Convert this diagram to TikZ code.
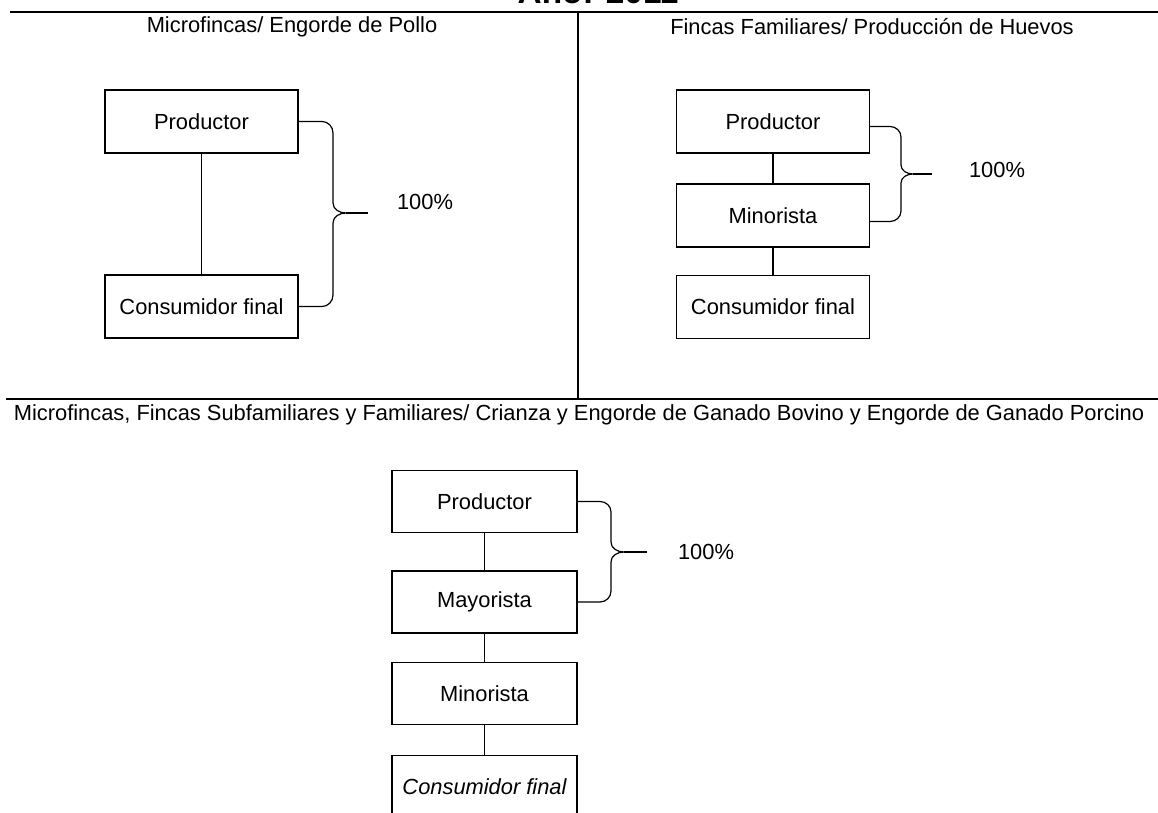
\documentclass[tikz,border=0pt]{standalone}
\usepackage{fontspec}
\setmainfont{Liberation Sans}
\newdimen\pxu \pxu=0.75pt
\begin{document}
\begin{tikzpicture}[x=0.75pt,y=-0.75pt,
  every node/.style={font=\fontsize{16.4}{19}\selectfont, inner sep=0pt},
  boxA/.style={draw=black, line width=0.9pt, minimum width=193\pxu, minimum height=63\pxu},
  boxB/.style={draw=black, line width=0.9pt, minimum width=185\pxu, minimum height=62\pxu},
  link/.style={draw=black, line width=0.9pt},
  brace/.style={draw=black, line width=0.9pt},
  rule/.style={draw=black, line width=1.1pt}]
\clip (0,0) rectangle (1158,813);
\fill[white] (0,0) rectangle (1158,813);

% title (cut off at the top)
\node[anchor=base, font=\fontsize{25}{28}\bfseries\selectfont] (title) at (598,4) {Año: 2011};

% frame lines
\coordinate (tl) at (10,12);
\coordinate (tr) at (1158,12);
\coordinate (ml) at (6,399);
\coordinate (mr) at (1158,399);
\coordinate (vt) at (578,12);
\coordinate (vb) at (578,399);
\draw[rule] (tl) -- (tr);
\draw[rule] (ml) -- (mr);
\draw[rule, line width=0.9pt] (vt) -- (vb);

% subtitles
\node (s1) at (292,27) {Microfincas/ Engorde de Pollo};
\node (s2) at (872,27) {Fincas Familiares/ Producción de Huevos};
\node (s3) at (579,415) {Microfincas, Fincas Subfamiliares y Familiares/ Crianza y Engorde de Ganado Bovino y Engorde de Ganado Porcino};

% left panel
\node[boxA] (lp) at (201.5,121.5) {Productor};
\node[boxA] (lc) at (201.5,306.5) {Consumidor final};
\draw[link] (lp) -- (lc);
\coordinate (ltip) at (368,213);
\draw[brace] (lp.east) -- (322,121.5) to[out=0,in=90] (333,133) -- (333,203)
  to[out=-90,in=180] (346,213) to[out=180,in=90] (333,223) -- (333,295)
  to[out=-90,in=0] (322,306.5) -- (lc.east);
\draw[brace] (346,213) -- (ltip);
\node (lpct) at (425,202) {100\%};

% right panel
\node[boxA] (rp) at (773,121.5) {Productor};
\node[boxA] (rm) at (773,215.5) {Minorista};
\node[boxA] (rc) at (773,307) {Consumidor final};
\draw[link] (rp) -- (rm);
\draw[link] (rm) -- (rc);
\coordinate (rtip) at (932,174);
\draw[brace] ([yshift=-3.75pt]rp.east) -- (890,126.5) to[out=0,in=90] (901,137) -- (901,165)
  to[out=-90,in=180] (913,174) to[out=180,in=90] (901,183) -- (901,211)
  to[out=-90,in=0] (890,221.5) -- ([yshift=-4.5pt]rm.east);
\draw[brace] (913,174) -- (rtip);
\node (rpct) at (997,170) {100\%};

% bottom panel
\node[boxB] (bp) at (484.5,501.5) {Productor};
\node[boxB] (bmy) at (484.5,602) {Mayorista};
\node[boxB] (bmi) at (484.5,693.5) {Minorista};
\node[boxB] (bc) at (484.5,786.5) {\itshape Consumidor final};
\draw[link] (bp) -- (bmy);
\draw[link] (bmy) -- (bmi);
\draw[link] (bmi) -- (bc);
\coordinate (btip) at (647,552);
\draw[brace] (bp.east) -- (600,501.5) to[out=0,in=90] (611,512) -- (611,542)
  to[out=-90,in=180] (624,552) to[out=180,in=90] (611,562) -- (611,591)
  to[out=-90,in=0] (600,602) -- (bmy.east);
\draw[brace] (624,552) -- (btip);
\node (bpct) at (706,552) {100\%};
\end{tikzpicture}
\end{document}
